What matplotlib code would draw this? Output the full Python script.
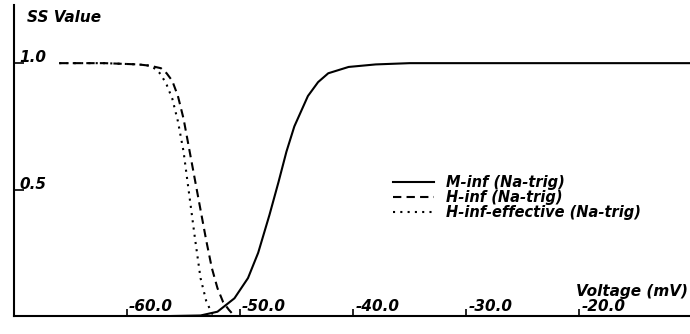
import matplotlib
matplotlib.use('Agg')
import matplotlib.pyplot as plt
import matplotlib.transforms as mtransforms

# values (voltage in mV, steady-state value)
v_m = [-56.0, -53.5, -52.0, -50.5, -49.3, -48.4, -47.4, -46.6, -45.9, -45.2,
       -44.0, -43.1, -42.2, -40.4, -38.0, -35.0, -30.0, -10.2]
m_inf = [0.0, 0.002, 0.017, 0.07, 0.15, 0.25, 0.40, 0.53, 0.65, 0.75,
         0.87, 0.925, 0.96, 0.985, 0.995, 1.0, 1.0, 1.0]

v_h = [-66.0, -62.0, -59.0, -58.0, -57.0, -56.5, -56.0, -55.5, -55.0, -54.5,
       -54.0, -53.5, -53.0, -52.5, -52.0, -51.5, -51.0, -50.5]
h_inf = [1.0, 1.0, 0.995, 0.99, 0.98, 0.96, 0.93, 0.87, 0.78, 0.66,
         0.54, 0.42, 0.30, 0.19, 0.11, 0.055, 0.025, 0.0]

v_heff = [-66.0, -62.0, -59.0, -58.0, -57.4, -57.0, -56.5, -56.0, -55.5, -55.0,
          -54.5, -54.0, -53.5, -53.0, -52.5, -52.0]
h_eff = [1.0, 1.0, 0.995, 0.99, 0.975, 0.955, 0.915, 0.86, 0.77, 0.65,
         0.48, 0.31, 0.15, 0.06, 0.01, 0.0]

xticks = [-60.0, -50.0, -40.0, -30.0, -20.0]
xticklabels = ['-60.0', '-50.0', '-40.0', '-30.0', '-20.0']
yticks = [0.5, 1.0]
yticklabels = ['0.5', '1.0']

font = dict(family='DejaVu Sans', style='oblique', weight='bold', size=11)

fig = plt.figure(figsize=(6.9, 3.34), dpi=100)
ax = fig.add_axes([14 / 690, 18 / 334, 676 / 690, 311 / 334])

ax.plot(v_m, m_inf, '-', color='black', lw=1.5, solid_joinstyle='round',
        label='M-inf (Na-trig)')
ax.plot(v_h, h_inf, color='black', lw=1.5, dashes=(4, 2.5),
        label='H-inf (Na-trig)')
ax.plot(v_heff, h_eff, color='black', lw=1.5, dashes=(1, 2.5),
        label='H-inf-effective (Na-trig)')

ax.set_xlim(-70, -10.2)
ax.set_ylim(0, 1.23)

for side in ['top', 'right']:
    ax.spines[side].set_visible(False)
for side in ['left', 'bottom']:
    ax.spines[side].set_linewidth(1.5)

ax.set_xticks(xticks)
ax.set_yticks(yticks)
ax.tick_params(axis='x', direction='in', length=5, width=1.2, labelbottom=False)
ax.tick_params(axis='y', direction='in', length=7, width=1.2, labelleft=False)

# tick labels sit inside the axes, just right of each tick
xtrans = mtransforms.blended_transform_factory(ax.transData, ax.transAxes)
xtrans = mtransforms.offset_copy(xtrans, fig=fig, x=2, y=2, units='dots')
for v, lab in zip(xticks, xticklabels):
    ax.text(v, 0, lab, transform=xtrans, ha='left', va='bottom', **font)

ytrans = mtransforms.blended_transform_factory(ax.transAxes, ax.transData)
ytrans = mtransforms.offset_copy(ytrans, fig=fig, x=5, y=1, units='dots')
for v, lab in zip(yticks, yticklabels):
    ax.text(0, v, lab, transform=ytrans, ha='left', va='baseline', **font)

ttrans = mtransforms.offset_copy(ax.transAxes, fig=fig, x=13, y=-5, units='dots')
ax.text(0, 1, 'SS Value', transform=ttrans, ha='left', va='top', **font)

vtrans = mtransforms.offset_copy(ax.transAxes, fig=fig, x=-2, y=17, units='dots')
ax.text(1, 0, 'Voltage (mV)', transform=vtrans, ha='right', va='bottom', **font)

ax.legend(loc='upper left', bbox_to_anchor=(393 / 690, 1 - 175 / 334),
          bbox_transform=fig.transFigure, frameon=False, borderpad=0,
          borderaxespad=0, handlelength=2.8, handletextpad=0.8, labelspacing=0.0,
          prop=dict(family='DejaVu Sans', style='oblique', weight='bold', size=10.5))

fig.savefig('out.png', dpi=100)
